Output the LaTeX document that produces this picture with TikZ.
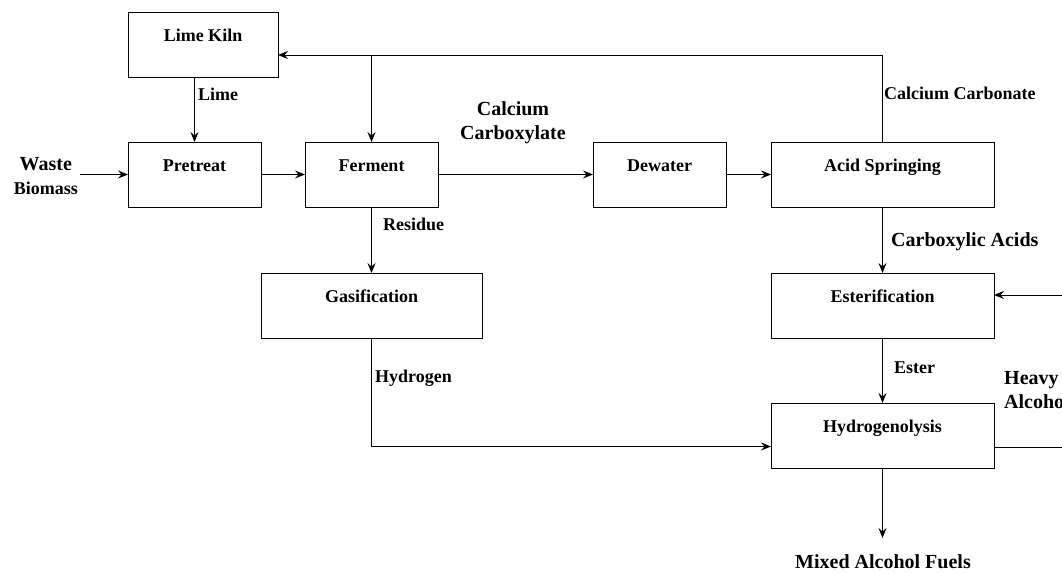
\documentclass[tikz,border=0pt]{standalone}
\usepackage{fontspec}
\setmainfont{Liberation Serif}
\usepackage{tikz}
\usetikzlibrary{arrows.meta, positioning, calc}

\begin{document}
\begin{tikzpicture}[
    x=1pt, y=-1pt,
    box/.style={draw, line width=1pt, minimum width=133pt, minimum height=65pt, inner sep=0pt, outer sep=0pt,
        text height=29pt, text depth=36pt, font=\fontsize{18}{20}\selectfont\bfseries},
    lbl/.style={inner sep=0pt, font=\fontsize{18}{24}\selectfont\bfseries},
    biglbl/.style={inner sep=0pt, font=\fontsize{20}{24}\selectfont\bfseries},
    line/.style={-{Stealth[length=10pt, width=8pt, inset=3.5pt]}, line width=1pt},
    plain/.style={line width=1pt}
]
\useasboundingbox (0,0) rectangle (1062,573);
\clip (0,0) rectangle (1062,573);

% process units
\node[box, minimum width=150pt, anchor=north west] (kiln) at (128,12) {Lime Kiln};
\node[box, anchor=north west] (pretreat) at (128,142) {Pretreat};
\node[box, right=44pt of pretreat] (ferment) {Ferment};
\node[box, right=155pt of ferment] (dewater) {Dewater};
\node[box, minimum width=223pt, right=45pt of dewater] (acid) {Acid Springing};
\node[box, minimum width=221pt, below=66pt of ferment] (gas) {Gasification};
\node[box, minimum width=223pt, below=66pt of acid] (ester) {Esterification};
\node[box, minimum width=223pt, below=65pt of ester] (hydro) {Hydrogenolysis};

% stream labels
\node[lbl, align=center, anchor=east] (waste) at (78,176) {{\fontsize{20}{20}\selectfont Waste}\\Biomass};
\node[lbl, anchor=base west] (lime) at (198,100) {Lime};
\node[biglbl, align=center, anchor=base] (carbox) at (513,139) {Calcium\\Carboxylate};
\node[lbl, anchor=base west] (residue) at (383,230) {Residue};
\node[lbl, anchor=base west] (hydrogen) at (375,382) {Hydrogen};
\node[lbl, anchor=base west] (carbonate) at (884,99) {Calcium Carbonate};
\node[biglbl, anchor=base west] (acids) at (891,246) {Carboxylic Acids};
\node[lbl, anchor=base west] (esterlbl) at (894,373) {Ester};
\node[biglbl, align=left, anchor=base west] (heavy) at (1004,408) {Heavy\\Alcohols};
\node[biglbl, anchor=base] (fuels) at (883,568) {Mixed Alcohol Fuels};

% loose ends
\coordinate (ret) at (882,55);
\coordinate (feed) at (1062,295);
\coordinate (heavyout) at (1062,447);
\coordinate (fuelout) at (882,538);

\draw[line] (pretreat.west -| waste.east) ++(2,0) -- (pretreat.west);
\draw[line] (pretreat.north |- kiln.south) -- (pretreat.north);
\draw[line] (pretreat) -- (ferment);
\draw[line] (ferment) -- (dewater);
\draw[line] (dewater) -- (acid);
\draw[line] (acid.north) -- (acid.north |- ret) -- (kiln.east |- ret);
\draw[line] (ferment.north |- ret) -- (ferment.north);
\draw[line] (ferment) -- (gas);
\draw[line] (acid) -- (ester);
\draw[line] (feed) -- (feed -| ester.east);
\draw[line] (ester) -- (hydro);
\draw[line] (gas.south) |- ($(hydro.west)+(0,11)$);
\draw[plain] (heavyout -| hydro.east) -- (heavyout);
\draw[line] (hydro.south) -- (hydro.south |- fuelout);

\end{tikzpicture}
\end{document}
